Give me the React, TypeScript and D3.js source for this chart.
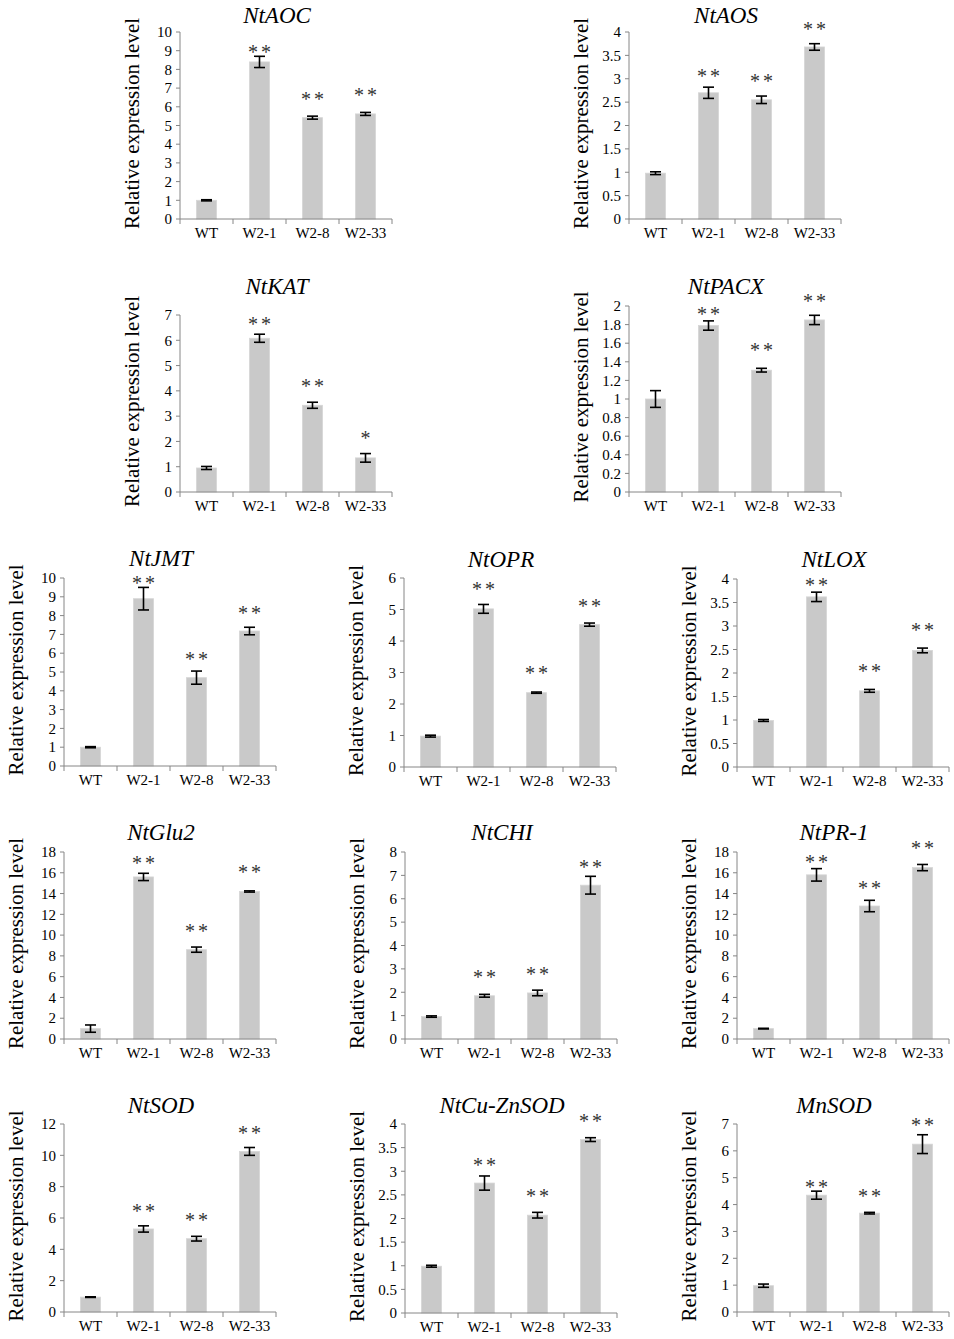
import React from "react";
import * as d3 from "d3";

// categories shared by every panel
const categories = ["WT", "W2-1", "W2-8", "W2-33"];

const geneNames = [
  "NtAOC", "NtAOS", "NtKAT", "NtPACX",
  "NtJMT", "NtOPR", "NtLOX",
  "NtGlu2", "NtCHI", "NtPR-1",
  "NtSOD", "NtCu-ZnSOD", "MnSOD",
];

// mean relative expression, one row per gene, columns follow categories
const meanValues = [
  [1.0, 8.4, 5.42, 5.62],
  [0.98, 2.7, 2.55, 3.68],
  [0.95, 6.08, 3.43, 1.35],
  [1.0, 1.79, 1.31, 1.85],
  [1.0, 8.9, 4.7, 7.18],
  [0.98, 5.02, 2.36, 4.52],
  [0.99, 3.62, 1.62, 2.48],
  [1.0, 15.6, 8.6, 14.2],
  [0.96, 1.85, 1.97, 6.58],
  [1.0, 15.8, 12.8, 16.5],
  [0.95, 5.3, 4.68, 10.25],
  [0.99, 2.75, 2.07, 3.67],
  [0.98, 4.35, 3.68, 6.25],
];

// standard errors
const errorValues = [
  [0.03, 0.3, 0.08, 0.08],
  [0.03, 0.12, 0.08, 0.07],
  [0.06, 0.16, 0.12, 0.17],
  [0.09, 0.05, 0.02, 0.05],
  [0.03, 0.6, 0.35, 0.2],
  [0.03, 0.14, 0.02, 0.05],
  [0.02, 0.1, 0.03, 0.05],
  [0.35, 0.35, 0.25, 0.06],
  [0.03, 0.06, 0.12, 0.38],
  [0.03, 0.6, 0.55, 0.3],
  [0.02, 0.2, 0.15, 0.25],
  [0.02, 0.15, 0.06, 0.04],
  [0.06, 0.15, 0.03, 0.35],
];

// significance marks and the level (in axis units) where they sit
const starMarks = [
  ["", "**", "**", "**"],
  ["", "**", "**", "**"],
  ["", "**", "**", "*"],
  ["", "**", "**", "**"],
  ["", "**", "**", "**"],
  ["", "**", "**", "**"],
  ["", "**", "**", "**"],
  ["", "**", "**", "**"],
  ["", "**", "**", "**"],
  ["", "**", "**", "**"],
  ["", "**", "**", "**"],
  ["", "**", "**", "**"],
  ["", "**", "**", "**"],
];
const starLevels = [
  [0, 9.2, 6.7, 6.9],
  [0, 3.17, 3.06, 4.17],
  [0, 6.84, 4.39, 2.33],
  [0, 1.97, 1.58, 2.11],
  [0, 10.0, 5.96, 8.4],
  [0, 5.8, 3.14, 5.27],
  [0, 3.98, 2.15, 3.02],
  [0, 17.4, 10.9, 16.6],
  [0, 2.86, 2.99, 7.56],
  [0, 17.5, 15.0, 18.9],
  [0, 6.77, 6.19, 11.74],
  [0, 3.24, 2.58, 4.17],
  [0, 4.85, 4.5, 7.15],
];

// y axis maximum and tick step per panel
const axisMax = [10, 4, 7, 2, 10, 6, 4, 18, 8, 18, 12, 4, 7];
const axisStep = [1, 0.5, 1, 0.2, 1, 1, 0.5, 2, 1, 2, 2, 0.5, 1];

// panel placement on the page: y-axis x, plot top, plot bottom, title baseline
const layout = [
  { x: 180, top: 32, bottom: 219, titleY: 23 },
  { x: 629, top: 32, bottom: 219, titleY: 23 },
  { x: 180, top: 315, bottom: 492, titleY: 294 },
  { x: 629, top: 306, bottom: 492, titleY: 294 },
  { x: 64, top: 578, bottom: 766, titleY: 566 },
  { x: 404, top: 578, bottom: 767, titleY: 567 },
  { x: 737, top: 579, bottom: 767, titleY: 567 },
  { x: 64, top: 852, bottom: 1039, titleY: 840 },
  { x: 405, top: 852, bottom: 1039, titleY: 840 },
  { x: 737, top: 852, bottom: 1039, titleY: 840 },
  { x: 64, top: 1124, bottom: 1312, titleY: 1113 },
  { x: 405, top: 1124, bottom: 1313, titleY: 1113 },
  { x: 737, top: 1124, bottom: 1312, titleY: 1113 },
];

const plotWidth = 212;
const serif = "'Times New Roman', 'Liberation Serif', Times, serif";
const axisColor = "#868686";

const Panel = ({ i }: { i: number }) => {
  const L = layout[i];
  const x = d3
    .scaleBand<string>()
    .domain(categories)
    .range([L.x, L.x + plotWidth])
    .paddingInner(0.62)
    .paddingOuter(0.31);
  const y = d3.scaleLinear().domain([0, axisMax[i]]).range([L.bottom, L.top]);
  const ticks = d3.range(0, axisMax[i] + axisStep[i] / 2, axisStep[i]);
  const step = x.step();
  const bw = x.bandwidth();
  const capHalf = 5.5;

  return (
    <g>
      <text
        x={L.x + 97}
        y={L.titleY}
        textAnchor="middle"
        fontFamily={serif}
        fontStyle="italic"
        fontSize={23}
      >
        {geneNames[i]}
      </text>
      <text
        transform={`translate(${L.x - 41},${(L.top + L.bottom) / 2 - 2}) rotate(-90)`}
        textAnchor="middle"
        fontFamily={serif}
        fontSize={21}
      >
        Relative expression level
      </text>
      {/* y axis */}
      <line x1={L.x} x2={L.x} y1={L.top} y2={L.bottom} stroke={axisColor} strokeWidth={1} />
      {ticks.map((t) => (
        <g key={t}>
          <line x1={L.x - 4} x2={L.x} y1={y(t)} y2={y(t)} stroke={axisColor} />
          <text
            x={L.x - 8}
            y={y(t)}
            dy="0.35em"
            textAnchor="end"
            fontFamily={serif}
            fontSize={15}
          >
            {`${+t.toFixed(2)}`}
          </text>
        </g>
      ))}
      {/* bars */}
      {categories.map((c, j) => {
        const m = meanValues[i][j];
        const e = errorValues[i][j];
        const cx = (x(c) as number) + bw / 2;
        return (
          <g key={c}>
            <rect
              x={x(c)}
              y={y(m)}
              width={bw}
              height={y(0) - y(m)}
              fill="#c9c9c9"
              stroke="#d6d6d6"
              strokeWidth={0.8}
            />
            <g stroke="#000" strokeWidth={1.6}>
              <line x1={cx} x2={cx} y1={y(m - e)} y2={y(m + e)} />
              <line x1={cx - capHalf} x2={cx + capHalf} y1={y(m - e)} y2={y(m - e)} />
              <line x1={cx - capHalf} x2={cx + capHalf} y1={y(m + e)} y2={y(m + e)} />
            </g>
            {starMarks[i][j] && (
              <text
                x={cx + 1.5}
                y={y(starLevels[i][j])}
                dy="0.6em"
                textAnchor="middle"
                fontFamily={serif}
                fontSize={20}
                letterSpacing={3}
                fill="#333"
              >
                {starMarks[i][j]}
              </text>
            )}
            <text
              x={cx}
              y={L.bottom + 19}
              textAnchor="middle"
              fontFamily={serif}
              fontSize={15}
            >
              {c}
            </text>
          </g>
        );
      })}
      {/* x axis */}
      <line x1={L.x} x2={L.x + plotWidth} y1={L.bottom} y2={L.bottom} stroke={axisColor} />
      {d3.range(5).map((k) => (
        <line
          key={k}
          x1={L.x + k * step}
          x2={L.x + k * step}
          y1={L.bottom}
          y2={L.bottom + 5}
          stroke={axisColor}
        />
      ))}
    </g>
  );
};

export default function App() {
  return (
    <svg
      width={954}
      height={1339}
      style={{ position: "absolute", left: 0, top: 0, background: "#fff" }}
    >
      <rect width={954} height={1339} fill="#fff" />
      {geneNames.map((g, i) => (
        <Panel key={g} i={i} />
      ))}
    </svg>
  );
}
